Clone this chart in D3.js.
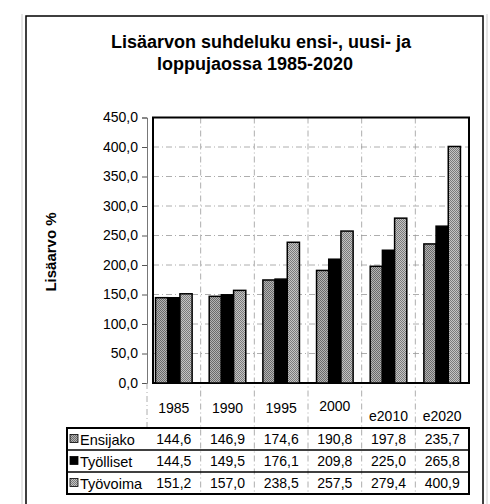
<!DOCTYPE html>
<html>
<head>
<meta charset="utf-8">
<script src="https://cdn.jsdelivr.net/npm/d3@7"></script>
<style>
  html, body { margin: 0; padding: 0; background: #fff; }
  svg text { font-family: "Liberation Sans", Arial, sans-serif; fill: #000; }
</style>
</head>
<body>
<div id="chart"></div>
<script>
const years = ["1985", "1990", "1995", "2000", "e2010", "e2020"];
const seriesNames = ["Ensijako", "Työlliset", "Työvoima"];
const ensijako = [144.6, 146.9, 174.6, 190.8, 197.8, 235.7];
const tyolliset = [144.5, 149.5, 176.1, 209.8, 225.0, 265.8];
const tyovoima = [151.2, 157.0, 238.5, 257.5, 279.4, 400.9];
const yTicks = [0, 50, 100, 150, 200, 250, 300, 350, 400, 450];

const seriesValues = [ensijako, tyolliset, tyovoima];
const fills = ["url(#dotDark)", "#000", "url(#dotLight)"];

const width = 490, height = 504;
const plot = { left: 147, right: 469, top: 117.5, bottom: 383 };
const table = { left: 67, top: 428, rowH: 22 };

const fmt = v => d3.format(".1f")(v).replace(".", ",");

const svg = d3.select("#chart").append("svg")
  .attr("width", width)
  .attr("height", height);

// halftone-ish fills like the scanned original
const defs = svg.append("defs");
function dither(id, dark, light) {
  const p = defs.append("pattern")
    .attr("id", id)
    .attr("width", 2).attr("height", 2)
    .attr("patternUnits", "userSpaceOnUse");
  p.append("rect").attr("width", 2).attr("height", 2).attr("fill", light);
  p.append("rect").attr("width", 1).attr("height", 1).attr("fill", dark);
  p.append("rect").attr("x", 1).attr("y", 1).attr("width", 1).attr("height", 1).attr("fill", dark);
}
dither("dotDark", "#6a6a6a", "#b4b4b4");
dither("dotLight", "#7a7a7a", "#c4c4c4");

// outer frame
svg.append("line").attr("x1", 22).attr("x2", 22).attr("y1", 14).attr("y2", height)
  .attr("stroke", "#ccc").attr("stroke-width", 1);
svg.append("line").attr("x1", 487).attr("x2", 487).attr("y1", 14).attr("y2", height)
  .attr("stroke", "#ccc").attr("stroke-width", 1);
svg.append("rect")
  .attr("x", 26).attr("y", 16)
  .attr("width", 457).attr("height", 500)
  .attr("fill", "none")
  .attr("stroke", "#000")
  .attr("stroke-width", 1.5);

// title
const title = svg.append("text")
  .attr("text-anchor", "middle")
  .style("font-size", "18px")
  .style("font-weight", "bold");
title.append("tspan").attr("x", 261).attr("y", 48).text("Lisäarvon suhdeluku ensi-, uusi- ja");
title.append("tspan").attr("x", 255).attr("y", 70).text("loppujaossa 1985-2020");

// scales
const x = d3.scaleBand().domain(years).range([plot.left, plot.right]);
const xs = d3.scaleBand().domain(seriesNames)
  .range([0, x.bandwidth()])
  .paddingOuter(0.7);
const y = d3.scaleLinear().domain([0, 450]).range([plot.bottom, plot.top]);

// horizontal gridlines
svg.append("g")
  .selectAll("line")
  .data(yTicks.filter(t => t > 0 && t < 450))
  .join("line")
  .attr("x1", plot.left + 6).attr("x2", plot.right)
  .attr("y1", d => y(d)).attr("y2", d => y(d))
  .attr("stroke", "#999")
  .attr("stroke-width", 0.8)
  .attr("stroke-dasharray", "6,3,1,3");

// vertical gridlines (category boundaries) running into the table
const bounds = years.slice(1).map(d => x(d));
svg.append("g")
  .selectAll("line")
  .data(bounds)
  .join("line")
  .attr("x1", d => d).attr("x2", d => d)
  .attr("y1", plot.top).attr("y2", table.top + table.rowH * 3)
  .attr("stroke", "#999")
  .attr("stroke-width", 0.8)
  .attr("stroke-dasharray", "6,3,1,3");

// y axis
const yAxis = svg.append("g")
  .attr("transform", `translate(${plot.left},0)`)
  .call(d3.axisLeft(y).tickValues(yTicks).tickFormat(fmt).tickSize(5).tickPadding(4));
yAxis.select(".domain").attr("stroke", "#555").attr("stroke-width", 0.8);
yAxis.selectAll(".tick line").attr("stroke", "#555");
yAxis.selectAll("text").style("font-size", "14px");

// extend the axis line through the header row
svg.append("line")
  .attr("x1", plot.left).attr("x2", plot.left)
  .attr("y1", plot.bottom).attr("y2", table.top)
  .attr("stroke", "#999").attr("stroke-width", 0.8)
  .attr("stroke-dasharray", "6,3,1,3");

// plot frame
svg.append("rect")
  .attr("x", plot.left + 6).attr("y", plot.top)
  .attr("width", plot.right - plot.left - 6)
  .attr("height", plot.bottom - plot.top)
  .attr("fill", "none")
  .attr("stroke", "#000")
  .attr("stroke-width", 2);

// bars
const bars = svg.append("g");
seriesValues.forEach((vals, si) => {
  bars.append("g")
    .selectAll("rect")
    .data(vals)
    .join("rect")
    .attr("x", (d, i) => x(years[i]) + xs(seriesNames[si]))
    .attr("y", d => y(d))
    .attr("width", xs.bandwidth())
    .attr("height", d => plot.bottom - y(d))
    .attr("fill", fills[si])
    .attr("stroke", "#000")
    .attr("stroke-width", 1.5);
});

// y label
svg.append("text")
  .attr("transform", `translate(56,252) rotate(-90)`)
  .attr("text-anchor", "middle")
  .style("font-size", "15px")
  .style("font-weight", "bold")
  .text("Lisäarvo %");

// category labels (header row)
svg.append("g")
  .selectAll("text")
  .data(years)
  .join("text")
  .attr("x", d => x(d) + x.bandwidth() / 2)
  .attr("y", d => d.startsWith("e") ? 421 : (d === "2000" ? 411 : 413))
  .attr("text-anchor", "middle")
  .style("font-size", "14px")
  .text(d => d);

// data table
const tableRight = plot.right;
const tg = svg.append("g");
seriesNames.forEach((name, si) => {
  const top = table.top + si * table.rowH;
  const mid = top + table.rowH / 2;
  tg.append("rect")
    .attr("x", table.left + 3).attr("y", mid - 4.5)
    .attr("width", 8).attr("height", 8)
    .attr("fill", fills[si])
    .attr("stroke", "#000").attr("stroke-width", 0.8);
  tg.append("text")
    .attr("x", table.left + 13).attr("y", mid + 5.5)
    .style("font-size", "14.5px")
    .text(name);
  tg.append("g")
    .selectAll("text")
    .data(seriesValues[si])
    .join("text")
    .attr("x", (d, i) => x(years[i]) + x.bandwidth() / 2)
    .attr("y", mid + 5)
    .attr("text-anchor", "middle")
    .style("font-size", "14px")
    .text(d => fmt(d));
  if (si > 0) {
    tg.append("line")
      .attr("x1", table.left).attr("x2", tableRight)
      .attr("y1", top).attr("y2", top)
      .attr("stroke", "#000").attr("stroke-width", 1.5);
  }
});
tg.append("rect")
  .attr("x", table.left).attr("y", table.top)
  .attr("width", tableRight - table.left)
  .attr("height", table.rowH * 3)
  .attr("fill", "none")
  .attr("stroke", "#000")
  .attr("stroke-width", 2);
</script>
</body>
</html>
